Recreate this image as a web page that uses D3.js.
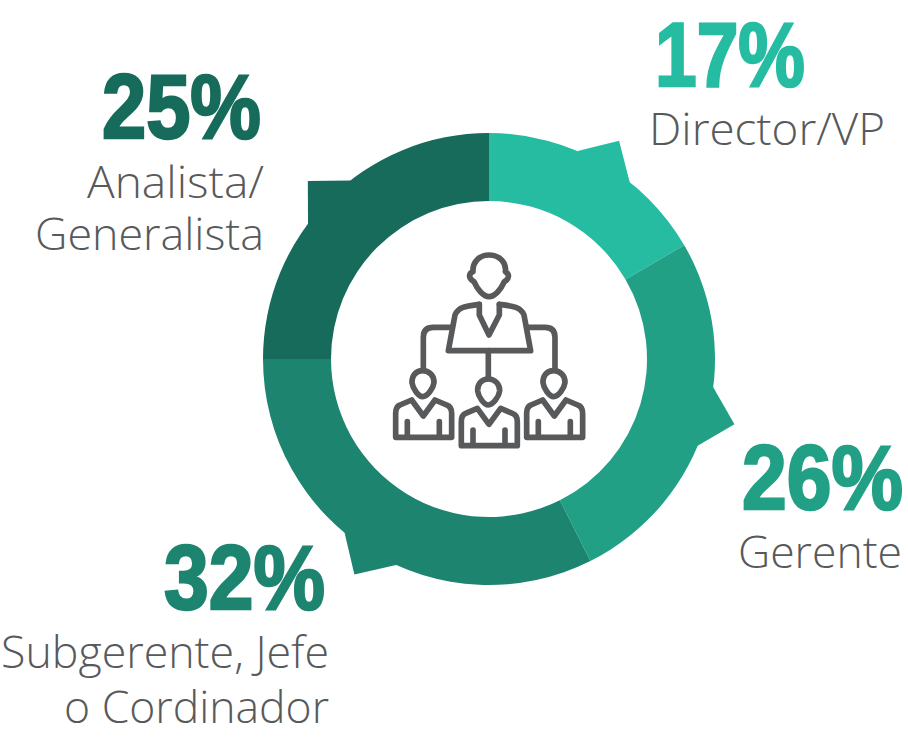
<!DOCTYPE html>
<html><head><meta charset="utf-8">
<script src="https://cdn.jsdelivr.net/npm/d3@7"></script>
<style>html,body{margin:0;padding:0;background:#fff}svg{display:block}</style>
</head><body><div id="c"></div>
<script>
const categories = ["Director/VP","Gerente","Subgerente, Jefe o Cordinador","Analista/ Generalista"];
const shownPercents = ["17%","26%","32%","25%"];
const sliceShares = [16.6,26,32.4,25];
const calloutAngles = [30.8,104.9,212,314.5];
const colors = ["#25bca2","#21a085","#1c846f","#166b5b"];
const labelLines = [["Director/VP"],["Gerente"],["Subgerente, Jefe","o Cordinador"],["Analista/","Generalista"]];

const W=908,H=753,cx=489,cy=359,R=226,r=158,tipR=254,halfW=7.7;
const svg=d3.select("#c").append("svg").attr("width",W).attr("height",H);
svg.append("rect").attr("width",W).attr("height",H).attr("fill","#fff");
const g=svg.append("g").attr("transform",`translate(${cx},${cy})`);
const rad=d3.scaleLinear().domain([0,360]).range([0,2*Math.PI]);
const pie=d3.pie().sort(null).value(d=>d)(sliceShares);
const arc=d3.arc().innerRadius(r).outerRadius(R);
const line=d3.lineRadial().angle(d=>rad(d[0])).radius(d=>d[1]);
g.selectAll("path.slice").data(pie).join("path").attr("class","slice")
 .attr("d",arc).attr("fill",(d,i)=>colors[i]);
g.selectAll("path.bump").data(calloutAngles).join("path").attr("class","bump")
 .attr("fill",(d,i)=>colors[i])
 .attr("d",a=>line([[a-halfW,R-2],[a-halfW,R],[a,tipR],[a+halfW,R],[a+halfW,R-2]])+"Z");

const num=[{x:655,y:86,w:150,a:"start"},{x:742,y:509,w:161,a:"start"},{x:325,y:609,w:161,a:"end"},{x:261,y:138,w:159,a:"end"}];
svg.selectAll("text.num").data(shownPercents).join("text").attr("class","num")
 .attr("x",(d,i)=>num[i].x).attr("y",(d,i)=>num[i].y).attr("text-anchor",(d,i)=>num[i].a)
 .attr("font-family","'Liberation Sans Narrow','Liberation Sans',sans-serif").attr("font-weight",700)
 .attr("font-size",91).attr("fill",(d,i)=>colors[i]).attr("stroke",(d,i)=>colors[i]).attr("stroke-width",2.6)
 .attr("textLength",(d,i)=>num[i].w).attr("lengthAdjust","spacingAndGlyphs").text(d=>d);

const lab=[{x:649,y:[145],w:[236],a:"start"},{x:738,y:[568],w:[164],a:"start"},
 {x:329,y:[668,723],w:[328,265],a:"end"},{x:264,y:[198,250],w:[177,229],a:"end"}];
labelLines.forEach((ls,i)=>ls.forEach((t,j)=>{
 svg.append("text").attr("x",lab[i].x).attr("y",lab[i].y[j]).attr("text-anchor",lab[i].a)
  .attr("font-family","'Open Sans',sans-serif").attr("font-weight",300).attr("font-size",44)
  .attr("fill","#58595b").attr("textLength",lab[i].w[j]).attr("lengthAdjust","spacingAndGlyphs").text(t);
}));

const icon=svg.append("g").attr("transform","translate(380,240) scale(0.3333)")
 .attr("fill","none").attr("stroke","#58595b").attr("stroke-width",17).attr("stroke-linejoin","round").attr("stroke-linecap","round");
["M327 45C295 45 277 70 279 95C264 102 266 116 282 125C292 148 310 170 327 170C345 170 363 148 373 125C389 116 389 102 376 95C380 70 360 45 327 45Z",
 "M298 193C260 198 235 200 225 225L205 332L452 332L432 225C422 200 395 198 358 193",
 "M298 193L298 225L327 285L358 225L358 193",
 "M215 262L160 262Q130 262 130 292L130 385",
 "M440 262L495 262Q525 262 525 292L525 385",
 "M325 332L325 415"].forEach(d=>icon.append("path").attr("d",d));
[[0,0],[197,25],[393,0]].forEach(o=>{
 const p=icon.append("g").attr("transform",`translate(${o[0]},${o[1]})`);
 ["M128 392C105 392 95 410 96 428C98 445 115 470 128 470C142 470 160 445 162 428C163 410 150 392 128 392Z",
  "M95 480L60 495Q47 500 47 520L47 592L215 592L215 520Q215 500 200 495L165 480L130 528Z",
  "M82 545L82 590","M178 545L178 590"].forEach(d=>p.append("path").attr("d",d));
});
</script></body></html>
